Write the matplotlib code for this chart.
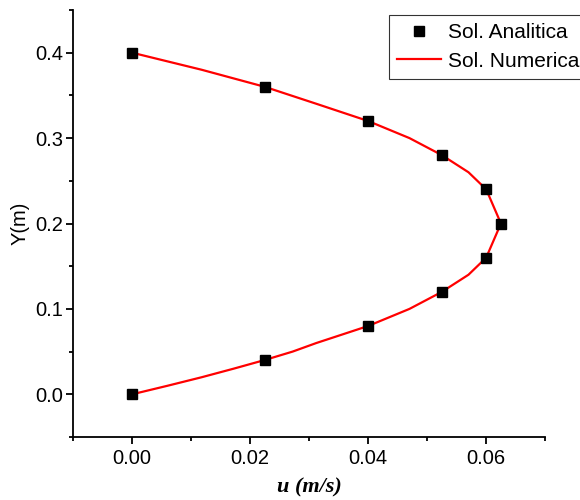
import matplotlib
matplotlib.use("Agg")
import matplotlib.pyplot as plt
from matplotlib.ticker import MultipleLocator

# analytic solution sampled at the mesh nodes
y_ana = [0.00, 0.04, 0.08, 0.12, 0.16, 0.20, 0.24, 0.28, 0.32, 0.36, 0.40]
u_ana = [0.0, 0.0225, 0.040, 0.0525, 0.060, 0.0625, 0.060, 0.0525, 0.040, 0.0225, 0.0]

# numerical solution
y_num = [0.00, 0.01, 0.02, 0.03, 0.04, 0.05, 0.06, 0.08, 0.10, 0.12, 0.14, 0.16,
         0.20, 0.24, 0.26, 0.28, 0.30, 0.32, 0.34, 0.36, 0.38, 0.40]
u_num = [0.0, 0.0060, 0.0118, 0.0172, 0.0224, 0.0272, 0.0312, 0.0400, 0.0470,
         0.0525, 0.0570, 0.0600, 0.0625, 0.0600, 0.0570, 0.0525, 0.0470,
         0.0400, 0.0313, 0.0225, 0.0118, 0.0]

plt.rcParams['font.family'] = ['Liberation Sans', 'DejaVu Sans']

fig = plt.figure(figsize=(5.8, 5.0), dpi=100)
ax = fig.add_axes([0.126, 0.126, 0.814, 0.854])

ax.plot(u_ana, y_ana, 's', color='black', markersize=7.5, label='Sol. Analitica', zorder=3)
ax.plot(u_num, y_num, '-', color='red', linewidth=1.6, label='Sol. Numerica', zorder=2)

ax.set_xlim(-0.01, 0.07)
ax.set_ylim(-0.05, 0.45)
ax.xaxis.set_major_locator(MultipleLocator(0.02))
ax.xaxis.set_minor_locator(MultipleLocator(0.01))
ax.yaxis.set_major_locator(MultipleLocator(0.1))
ax.yaxis.set_minor_locator(MultipleLocator(0.05))
ax.set_xticks([0.0, 0.02, 0.04, 0.06])
ax.set_xticklabels(['0.00', '0.02', '0.04', '0.06'])
ax.set_yticks([0.0, 0.1, 0.2, 0.3, 0.4])
ax.set_yticklabels(['0.0', '0.1', '0.2', '0.3', '0.4'])

for side in ['top', 'right']:
    ax.spines[side].set_visible(False)
for side in ['left', 'bottom']:
    ax.spines[side].set_linewidth(1.3)

ax.tick_params(which='major', direction='out', length=5, width=1.3, labelsize=14.5)
ax.tick_params(axis='y', which='major', pad=2)
ax.tick_params(which='minor', direction='out', length=3, width=1.3)

ax.set_ylabel('Y(m)', fontsize=14.5, labelpad=4)
ax.set_xlabel('u (m/s)', fontsize=16, family='Liberation Serif',
              fontweight='bold', fontstyle='italic', labelpad=7)

leg = ax.legend(loc='upper left', bbox_to_anchor=(389 / 580, 1 - 15 / 500),
                bbox_transform=fig.transFigure, fontsize=15, frameon=True,
                fancybox=False, edgecolor='black', borderpad=0.4,
                labelspacing=0.45, handlelength=2.1, handletextpad=0.35,
                borderaxespad=0, markerscale=0.9)
leg.get_frame().set_linewidth(0.8)
leg.set_clip_on(False)

fig.savefig('out.png', dpi=100)
